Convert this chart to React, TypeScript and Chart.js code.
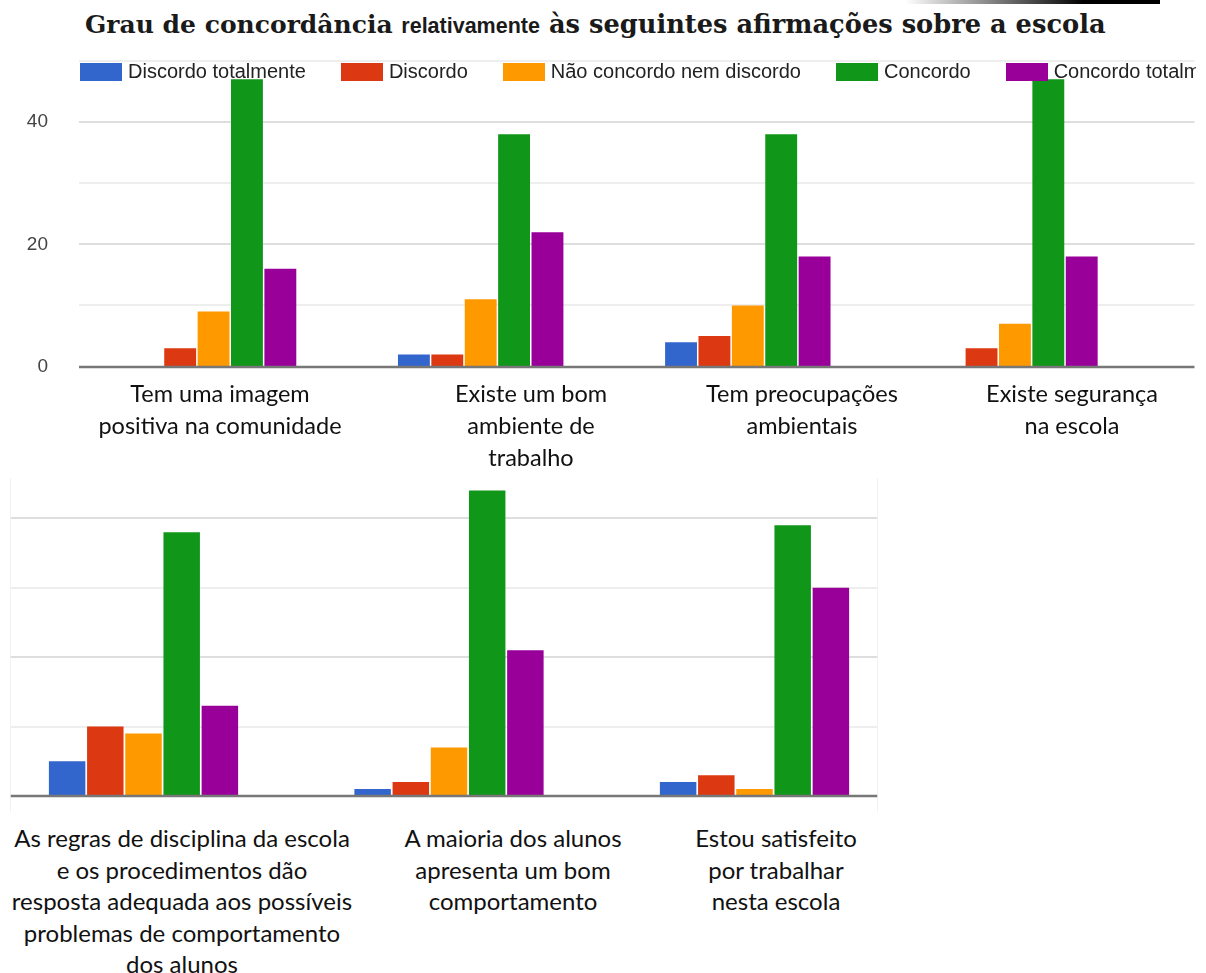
import React, { useEffect, useRef } from "react";
import { Chart, registerables } from "chart.js";

Chart.register(...registerables);

// ---- data ----
const seriesLabels = [
  "Discordo totalmente",
  "Discordo",
  "Não concordo nem discordo",
  "Concordo",
  "Concordo totalmente",
];
const seriesColors = ["#3366cc", "#dc3912", "#ff9900", "#109618", "#990099"];

const topCategories = [
  ["Tem uma imagem", "positiva na comunidade"],
  ["Existe um bom", "ambiente de", "trabalho"],
  ["Tem preocupações", "ambientais"],
  ["Existe segurança", "na escola"],
];
const topDiscordoTotalmente = [0, 2, 4, 0];
const topDiscordo = [3, 2, 5, 3];
const topNemNem = [9, 11, 10, 7];
const topConcordo = [47, 38, 38, 47];
const topConcordoTotalmente = [16, 22, 18, 18];

const bottomCategories = [
  [
    "As regras de disciplina da escola",
    "e os procedimentos dão",
    "resposta adequada aos possíveis",
    "problemas de comportamento",
    "dos alunos",
  ],
  ["A maioria dos alunos", "apresenta um bom", "comportamento"],
  ["Estou satisfeito", "por trabalhar", "nesta escola"],
];
const bottomDiscordoTotalmente = [5, 1, 2];
const bottomDiscordo = [10, 2, 3];
const bottomNemNem = [9, 7, 1];
const bottomConcordo = [38, 44, 39];
const bottomConcordoTotalmente = [13, 21, 30];

const yTickLabels = [0, 20, 40];
const topGridValues = [10, 20, 30, 40, 50];
const bottomGridValues = [10, 20, 30, 40];
const majorGridValues = [20, 40];

// ---- helpers ----
function makeGridPlugin(values: number[], leftOff: number, rightOff: number) {
  return {
    id: "customGrid",
    beforeDatasetsDraw(chart: any) {
      const { ctx, chartArea, scales } = chart;
      const y = scales.y;
      ctx.save();
      for (const v of values) {
        const py = Math.round(y.getPixelForValue(v));
        ctx.strokeStyle = majorGridValues.includes(v) ? "#dedede" : "#eeeeee";
        ctx.lineWidth = 2;
        ctx.beginPath();
        ctx.moveTo(chartArea.left + leftOff, py);
        ctx.lineTo(chartArea.right + rightOff, py);
        ctx.stroke();
      }
      ctx.restore();
    },
    afterDatasetsDraw(chart: any) {
      const { ctx, chartArea, scales } = chart;
      const py = Math.round(scales.y.getPixelForValue(0));
      ctx.save();
      ctx.strokeStyle = "#777777";
      ctx.lineWidth = 2.5;
      ctx.beginPath();
      ctx.moveTo(chartArea.left + leftOff, py);
      ctx.lineTo(chartArea.right + rightOff, py);
      ctx.stroke();
      ctx.restore();
    },
  };
}

function buildDatasets(series: number[][]) {
  return series.map((data, i) => ({
    label: seriesLabels[i],
    data,
    backgroundColor: seriesColors[i],
    borderWidth: 0,
    categoryPercentage: 0.625,
    barPercentage: 0.955,
  }));
}

function BarChart(props: {
  labels: string[][];
  series: number[][];
  gridValues: number[];
  showY: boolean;
  padding: { left: number; right: number; top: number; bottom: number };
  gridLeftOff: number;
  gridRightOff: number;
  width: number;
  height: number;
  style: React.CSSProperties;
}) {
  const ref = useRef<HTMLCanvasElement | null>(null);
  useEffect(() => {
    if (!ref.current) return;
    const yScale: any = {
      display: props.showY,
      min: 0,
      max: 50,
      grid: { display: false, drawTicks: false },
      border: { display: false },
      ticks: {
        stepSize: 10,
        padding: 32,
        color: "#444444",
        font: { family: "'Liberation Sans', Arial, sans-serif", size: 19 },
        callback: (v: any) => (yTickLabels.includes(Number(v)) ? String(v) : ""),
      },
    };
    if (props.showY) {
      yScale.afterFit = (scale: any) => {
        scale.width = 80;
      };
    }
    const chart = new Chart(ref.current, {
      type: "bar",
      data: {
        labels: props.labels.map((l) => l.join(" ")),
        datasets: buildDatasets(props.series) as any,
      },
      options: {
        animation: false,
        responsive: false,
        devicePixelRatio: 1,
        layout: { padding: props.padding },
        plugins: { legend: { display: false }, tooltip: { enabled: false }, title: { display: false } },
        scales: {
          x: { display: false },
          y: yScale,
        },
      },
      plugins: [makeGridPlugin(props.gridValues, props.gridLeftOff, props.gridRightOff)],
    });
    return () => chart.destroy();
  }, []);
  return <canvas ref={ref} width={props.width} height={props.height} style={props.style} />;
}

const labelFont = "Lato, 'Liberation Sans', sans-serif";

function CategoryLabel({
  lines,
  cx,
  top,
  lh,
  size,
}: {
  lines: string[];
  cx: number;
  top: number;
  lh: number;
  size: number;
}) {
  return (
    <div
      style={{
        position: "absolute",
        left: cx - 220,
        width: 440,
        top,
        textAlign: "center",
        fontFamily: labelFont,
        fontSize: size,
        lineHeight: lh + "px",
        color: "#111",
        whiteSpace: "nowrap",
      }}
    >
      {lines.map((l, i) => (
        <div key={i}>{l}</div>
      ))}
    </div>
  );
}

const topLabelCenters = [220, 531, 802, 1072];
const bottomLabelCenters = [182, 513, 776];

export default function App() {
  const serif = "'DejaVu Serif', serif";
  return (
    <div
      style={{
        position: "absolute",
        left: 0,
        top: 0,
        width: 1206,
        height: 973,
        overflow: "hidden",
        background: "#ffffff",
      }}
    >
      {/* top-right dark stroke */}
      <div
        style={{
          position: "absolute",
          left: 905,
          top: 0,
          width: 255,
          height: 4,
          background: "linear-gradient(to right, rgba(0,0,0,0), #000 70%)",
        }}
      />
      {/* title */}
      <div
        style={{
          position: "absolute",
          left: 85,
          top: 10,
          whiteSpace: "nowrap",
          fontWeight: "bold",
          color: "#1a1a1a",
          fontSize: 25,
          lineHeight: "28px",
        }}
      >
        <span style={{ fontFamily: serif }}>Grau de concordância </span>
        <span style={{ fontFamily: "'Liberation Sans', Arial, sans-serif", fontSize: 21.5 }}>relativamente</span>
        <span style={{ fontFamily: serif, fontSize: 25.7 }}> às seguintes afirmações sobre a escola</span>
      </div>

      {/* top chart */}
      <BarChart
        labels={topCategories}
        series={[topDiscordoTotalmente, topDiscordo, topNemNem, topConcordo, topConcordoTotalmente]}
        gridValues={topGridValues}
        showY={true}
        padding={{ left: 0, right: 57.5, top: 61, bottom: 24 }}
        gridLeftOff={-1}
        gridRightOff={46}
        width={1206}
        height={410}
        style={{ position: "absolute", left: 0, top: 0 }}
      />

      {/* legend */}
      <div
        style={{
          position: "absolute",
          left: 80,
          top: 62,
          width: 1116,
          height: 19,
          overflow: "hidden",
          whiteSpace: "nowrap",
          display: "flex",
          alignItems: "center",
          fontFamily: "'Liberation Sans', Arial, sans-serif",
          fontSize: 20,
          color: "#222",
        }}
      >
        {seriesLabels.map((s, i) => (
          <div key={i} style={{ display: "flex", alignItems: "center", marginRight: 35, flex: "0 0 auto" }}>
            <div style={{ width: 42, height: 18, background: seriesColors[i], marginRight: 6 }} />
            <span style={{ lineHeight: "19px" }}>{s}</span>
          </div>
        ))}
      </div>

      {topCategories.map((lines, i) => (
        <CategoryLabel key={i} lines={lines} cx={topLabelCenters[i]} top={377} lh={32} size={23.5} />
      ))}

      {/* faint frame of the lower picture */}
      <div style={{ position: "absolute", left: 10, top: 478, width: 1, height: 334, background: "#f2f2f2" }} />
      <div style={{ position: "absolute", left: 877, top: 478, width: 1, height: 334, background: "#f2f2f2" }} />

      {/* bottom chart */}
      <BarChart
        labels={bottomCategories}
        series={[bottomDiscordoTotalmente, bottomDiscordo, bottomNemNem, bottomConcordo, bottomConcordoTotalmente]}
        gridValues={bottomGridValues}
        showY={false}
        padding={{ left: 30.75, right: 12.75, top: 8.9, bottom: 14 }}
        gridLeftOff={20}
        gridRightOff={-30}
        width={960}
        height={370}
        style={{ position: "absolute", left: -40, top: 440 }}
      />

      {bottomCategories.map((lines, i) => (
        <CategoryLabel key={i} lines={lines} cx={bottomLabelCenters[i]} top={822} lh={31.5} size={24} />
      ))}
    </div>
  );
}
